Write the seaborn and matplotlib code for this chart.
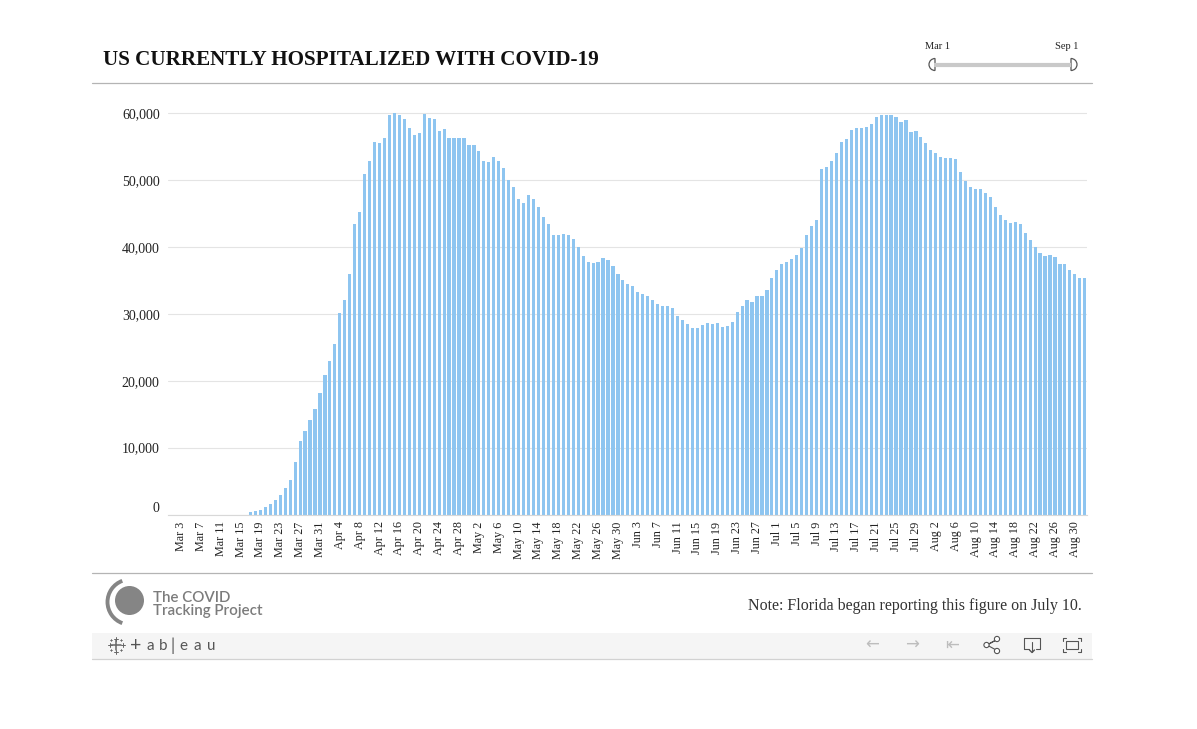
import numpy as np
import pandas as pd
import matplotlib
matplotlib.use("Agg")
import matplotlib.pyplot as plt
import matplotlib.patches as mpatches
import matplotlib.transforms as mtransforms
import seaborn as sns

# currently hospitalized, thousands, one value per day from Mar 3 to Sep 1 2020
march = [0, 0, 0, 0, 0, 0, 0, 0, 0, 0, 0, 0, 0, 0,
         0.33, 0.5, 0.65, 1.1, 1.5, 2.1, 2.9, 3.9, 5.1, 7.8, 10.95, 12.45, 14.1, 15.8, 18.1]
april = [20.8, 22.9, 25.5, 30.1, 32.0, 35.9, 43.5, 45.3, 50.9, 52.9,
         55.7, 55.6, 56.3, 59.8, 60.1, 59.7, 59.1, 57.8, 56.7, 57.0,
         59.9, 59.3, 59.2, 57.4, 57.6, 56.3, 56.3, 56.3, 56.3, 55.3]
may = [55.3, 54.4, 52.9, 52.7, 53.5, 52.9, 51.8, 50.0, 48.9, 47.2,
       46.6, 47.7, 47.1, 45.9, 44.5, 43.5, 41.8, 41.8, 42.0, 41.8,
       41.2, 40.0, 38.7, 37.8, 37.6, 37.8, 38.4, 38.1, 37.1, 35.9, 35.0]
june = [34.4, 34.1, 33.3, 32.9, 32.6, 32.0, 31.5, 31.2, 31.2, 30.9,
        29.7, 29.1, 28.5, 27.9, 27.9, 28.4, 28.7, 28.5, 28.7, 28.1,
        28.2, 28.8, 30.3, 31.2, 32.0, 31.8, 32.6, 32.6, 33.6, 35.3]
july = [36.5, 37.5, 37.8, 38.2, 38.8, 39.9, 41.8, 43.2, 44.1, 51.7,
        52.0, 52.9, 54.1, 55.7, 56.2, 57.5, 57.8, 57.8, 58.0, 58.4,
        59.5, 59.8, 59.8, 59.8, 59.5, 58.7, 59.0, 57.2, 57.4, 56.5, 55.6]
august = [54.5, 54.1, 53.5, 53.3, 53.3, 53.2, 51.2, 49.9, 49.0, 48.7,
          48.6, 48.1, 47.4, 45.9, 44.8, 44.1, 43.6, 43.8, 43.5, 42.1,
          41.1, 40.0, 39.1, 38.7, 38.8, 38.5, 37.5, 37.4, 36.6, 35.9, 35.4]
september = [35.3]

tick_labels = ["Mar 3", "Mar 7", "Mar 11", "Mar 15", "Mar 19", "Mar 23", "Mar 27", "Mar 31",
               "Apr 4", "Apr 8", "Apr 12", "Apr 16", "Apr 20", "Apr 24", "Apr 28",
               "May 2", "May 6", "May 10", "May 14", "May 18", "May 22", "May 26", "May 30",
               "Jun 3", "Jun 7", "Jun 11", "Jun 15", "Jun 19", "Jun 23", "Jun 27",
               "Jul 1", "Jul 5", "Jul 9", "Jul 13", "Jul 17", "Jul 21", "Jul 25", "Jul 29",
               "Aug 2", "Aug 6", "Aug 10", "Aug 14", "Aug 18", "Aug 22", "Aug 26", "Aug 30"]
y_ticks = [0, 10000, 20000, 30000, 40000, 50000, 60000]

BAR_COLOR = "#8ec5f0"
SERIF = ["Liberation Serif", "DejaVu Serif"]
SANS = ["Lato", "DejaVu Sans"]

values = np.array(march + april + may + june + july + august + september) * 1000
dates = pd.date_range("2020-03-03", periods=len(values), freq="D")
df = pd.DataFrame({"date": dates.strftime("%Y-%m-%d"), "hospitalized": values})

sns.set_style("white")
plt.rcParams["font.family"] = SERIF

fig = plt.figure(figsize=(11.97, 7.29), dpi=100)
fig.patch.set_facecolor("white")

# overlay in pixel coordinates for the dashboard furniture
deco = fig.add_axes([0, 0, 1, 1])
deco.set_xlim(0, 1197)
deco.set_ylim(729, 0)
deco.axis("off")
deco.patch.set_alpha(0)

deco.text(103, 65, "US CURRENTLY HOSPITALIZED WITH COVID-19", fontsize=15.2,
          fontweight="bold", color="#111111", va="baseline", ha="left")
deco.plot([92, 1092], [83, 83], color="#b4b4b4", lw=0.9)
deco.plot([92, 1092], [573, 573], color="#b4b4b4", lw=0.9)

# date slider
deco.text(925, 46, "Mar 1", fontsize=7.5, color="#222222", va="center", ha="left")
deco.text(1078, 46, "Sep 1", fontsize=7.5, color="#222222", va="center", ha="right")
deco.plot([934, 1071], [64.5, 64.5], color="#c9c9c9", lw=3, solid_capstyle="butt")
deco.add_patch(mpatches.Wedge((935, 64.5), 6, 90, 270, facecolor="white",
                              edgecolor="#555555", lw=0.9))
deco.add_patch(mpatches.Wedge((1071, 64.5), 6, -90, 90, facecolor="white",
                              edgecolor="#555555", lw=0.9))

# logo
deco.add_patch(mpatches.Circle((129.5, 600.5), 14.5, color="#858585", lw=0))
deco.add_patch(mpatches.Arc((130, 602), 45, 45, theta1=110, theta2=250,
                            color="#858585", lw=2.8))
deco.text(153, 602, "The COVID", family=SANS, fontsize=10.9, fontweight="semibold",
          color="#7c7c7c", va="baseline", ha="left")
deco.text(153, 615, "Tracking Project", family=SANS, fontsize=10.9, fontweight="semibold",
          color="#7c7c7c", va="baseline", ha="left")

deco.text(1082, 610, "Note: Florida began reporting this figure on July 10.",
          fontsize=11.55, color="#333333", va="baseline", ha="right")

# tableau toolbar
deco.add_patch(mpatches.Rectangle((92, 633), 1000, 25.5, facecolor="#f5f5f5", lw=0))
deco.plot([92, 1092], [658.5, 658.5], color="#d2d2d2", lw=0.9)
for cx, cy, s, w in [(116, 645, 5, 1.1), (116, 638.5, 2, 0.7), (116, 651.5, 2, 0.7),
                     (109.5, 645, 2, 0.7), (122.5, 645, 2, 0.7),
                     (111, 640, 1.2, 0.6), (121, 640, 1.2, 0.6),
                     (111, 650, 1.2, 0.6), (121, 650, 1.2, 0.6)]:
    deco.plot([cx - s, cx + s], [cy, cy], color="#666666", lw=w)
    deco.plot([cx, cx], [cy - s, cy + s], color="#666666", lw=w)
for x, ch, fs in [(135.5, "+", 14), (150, "a", 11), (163.5, "b", 11), (172.5, "|", 12),
                  (183.5, "e", 11), (197.5, "a", 11), (211.5, "u", 11)]:
    deco.text(x, 645.5, ch, family=SANS, fontsize=fs, color="#555555",
              va="center", ha="center")
for x, glyph in [(872, "\u2190"), (912, "\u2192"), (952, "\u21e4")]:
    deco.text(x, 645, glyph, family=["DejaVu Sans"], fontsize=12, color="#bdbdbd",
              va="center", ha="center")
# share icon
deco.plot([987, 997, 987, 997], [645, 639.5, 645, 650.5], color="#555555", lw=0.8)
for px, py in [(986.5, 645), (997, 639), (997, 651)]:
    deco.add_patch(mpatches.Circle((px, py), 2.6, facecolor="white",
                                   edgecolor="#555555", lw=0.8, zorder=3))
# download icon
deco.plot([1028.5, 1024, 1024, 1040, 1040, 1035.5],
          [649, 649, 638, 638, 649, 649], color="#555555", lw=0.8)
deco.plot([1032, 1032], [642, 652], color="#555555", lw=0.8)
deco.plot([1029.5, 1032, 1034.5], [650, 652.5, 650], color="#555555", lw=1)
# fullscreen icon
deco.add_patch(mpatches.Rectangle((1066, 641), 12, 8, facecolor="none",
                                  edgecolor="#555555", lw=0.8))
for sx, sy in [(1063, 638), (1081, 638), (1063, 652), (1081, 652)]:
    dx = 3 if sx < 1070 else -3
    dy = 3 if sy < 645 else -3
    deco.plot([sx + dx, sx, sx], [sy, sy, sy + dy], color="#555555", lw=0.8)

# main chart
ax = fig.add_axes([168 / 1197, 1 - 514.5 / 729, 919 / 1197, 408 / 729])
sns.barplot(data=df, x="date", y="hospitalized", color=BAR_COLOR, saturation=1,
            width=0.64, linewidth=0, ax=ax)
ax.set_xlim(-2.6, 182.45)
ax.set_ylim(0, 61000)
ax.set_xlabel("")
ax.set_ylabel("")
ax.set_xticks(range(0, len(values), 4))
ax.set_xticklabels(tick_labels, rotation=90, fontsize=8.7, color="#222222", va="top")
ax.set_yticks(y_ticks)
ax.set_yticklabels([f"{v:,}" for v in y_ticks], fontsize=10, color="#222222")
ax.tick_params(axis="both", length=0)
ax.tick_params(axis="x", pad=5)
ax.tick_params(axis="y", pad=6)
ax.yaxis.grid(True, color="#e4e4e4", lw=0.8)
ax.set_axisbelow(True)
for side in ["top", "right", "left"]:
    ax.spines[side].set_visible(False)
ax.spines["bottom"].set_color("#d8d8d8")
ax.spines["bottom"].set_linewidth(0.8)
ax.patch.set_alpha(0)

# tableau lifts the zero label above the baseline
zero = ax.get_yticklabels()[0]
zero.set_transform(zero.get_transform() +
                   mtransforms.ScaledTranslation(0, 8 / 100, fig.dpi_scale_trans))

fig.savefig("out.png", dpi=100)
